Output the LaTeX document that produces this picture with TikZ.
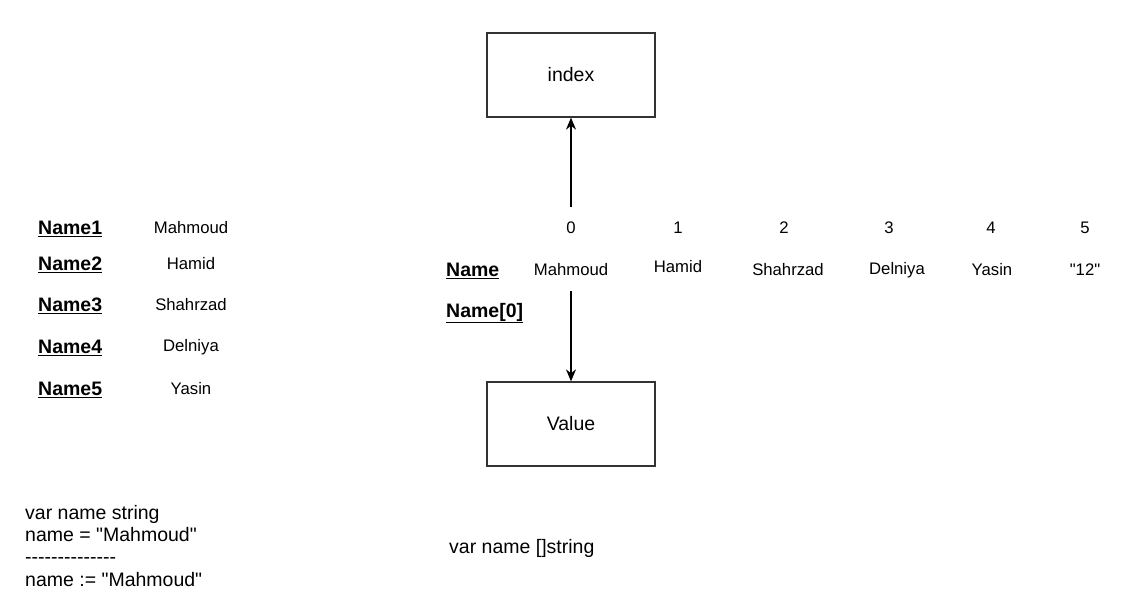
\documentclass[tikz,border=0pt]{standalone}
\usepackage{fontspec}
\setmainfont{Liberation Sans}[Ligatures=TeXOff]
\usetikzlibrary{arrows.meta}
\begin{document}
\begin{tikzpicture}[x=1pt,y=-1pt,
  box/.style={draw=black!80,line width=1.3pt,minimum width=168pt,minimum height=84pt,inner sep=0pt,font=\fontsize{19.5}{23}\selectfont},
  small/.style={inner sep=0pt,font=\fontsize{16.7}{20}\selectfont},
  big/.style={inner sep=0pt,anchor=base west,font=\fontsize{19.5}{23}\selectfont},
  lbl/.style={inner sep=0pt,anchor=west,font=\fontsize{19.5}{23}\selectfont\bfseries},
  arr/.style={line width=1.3pt,-{Stealth[length=12pt,width=10pt]}}]
\useasboundingbox (0,0) rectangle (1133,615);
% boxes
\node[box] (index) at (571,75) {index};
\node[box] (value) at (571,424) {Value};
% left column
\node[lbl] (n1) at (38,229) {\underline{Name1}};
\node[lbl] (n2) at (38,265) {\underline{Name2}};
\node[lbl] (n3) at (38,306) {\underline{Name3}};
\node[lbl] (n4) at (38,348) {\underline{Name4}};
\node[lbl] (n5) at (38,390) {\underline{Name5}};
\node[small] (v1) at (191,228) {Mahmoud};
\node[small] (v2) at (191,264) {Hamid};
\node[small] (v3) at (191,305) {Shahrzad};
\node[small] (v4) at (191,347) {Delniya};
\node[small] (v5) at (191,389) {Yasin};
% indices
\node[small] (i0) at (571,228) {0};
\node[small] (i1) at (678,228) {1};
\node[small] (i2) at (784,228) {2};
\node[small] (i3) at (889,228) {3};
\node[small] (i4) at (991,228) {4};
\node[small] (i5) at (1085,228) {5};
% array row
\node[lbl] (nm) at (446,271) {\underline{Name}};
\node[small] (a0) at (571,270) {Mahmoud};
\node[small] (a1) at (678,267) {Hamid};
\node[small] (a2) at (788,270) {Shahrzad};
\node[small] (a3) at (897,270) {Delniya};
\node[small] (a4) at (992,270) {Yasin};
\node[small] (a5) at (1085,270) {"12"};
\node[lbl] (nm0) at (446,313) {\underline{Name[0]}};
% arrows
\coordinate (up) at (571,207);
\coordinate (dn) at (571,291);
\draw[arr] (up) -- (index.south);
\draw[arr] (dn) -- (value.north);
% code text
\node[big] (c1) at (25,519) {var name string};
\node[big] (c2) at (25,541) {name = "Mahmoud"};
\node[big] (c3) at (25,563) {--------------};
\node[big] (c4) at (25,586) {name := "Mahmoud"};
\node[big] (c5) at (449,553) {var name []string};
\end{tikzpicture}
\end{document}
